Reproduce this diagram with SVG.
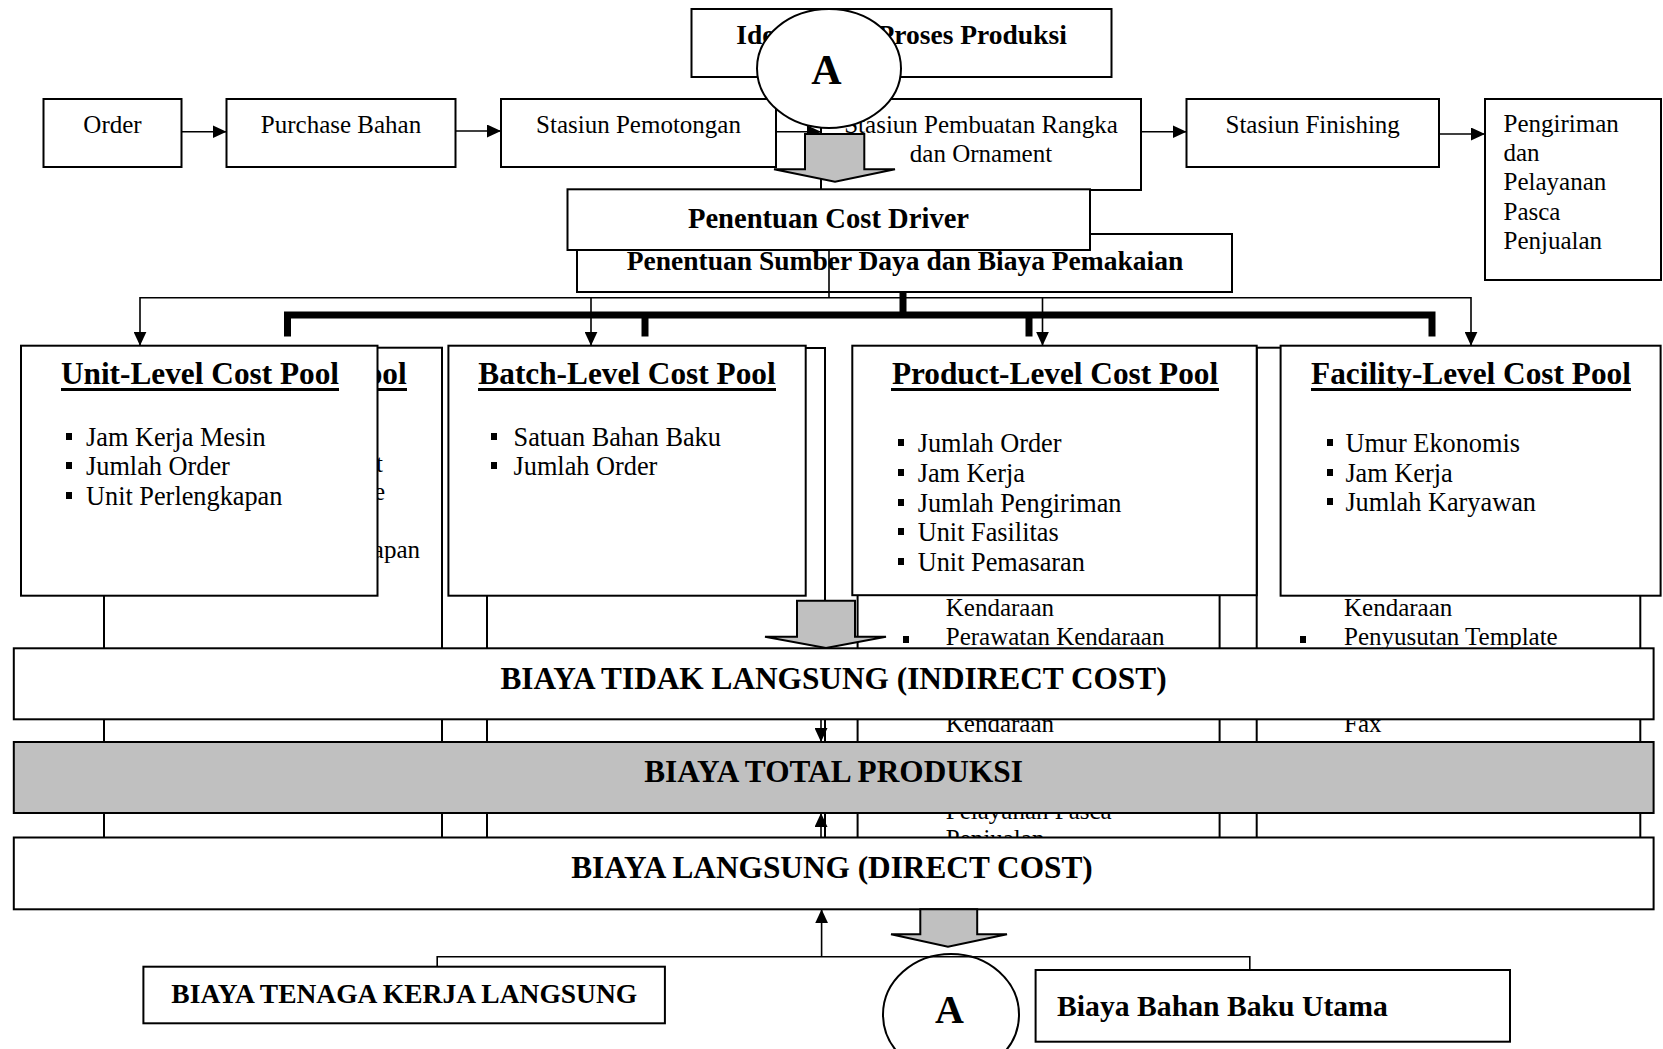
<svg xmlns="http://www.w3.org/2000/svg" width="1663" height="1049" viewBox="0 0 1663 1049">
  <defs>
    <style>
      .bx { fill: #ffffff; stroke: #000000; stroke-width: 2; }
      .gray { fill: #c0c0c0; stroke: #000000; stroke-width: 2; }
      .ln { fill: none; stroke: #000000; stroke-width: 1.6; }
      .thick { fill: none; stroke: #000000; stroke-width: 7; }
      .t { font-family: "Liberation Serif", "Times New Roman", serif; fill: #000000; }
      .flow { font-size: 25px; }
      .b { font-weight: bold; }
      .c { text-anchor: middle; }
      .item { font-size: 26.3px; }
      .back { font-size: 25px; }
      .title { font-size: 31.3px; font-weight: bold; text-anchor: middle; }
      .band { font-size: 31.3px; font-weight: bold; text-anchor: middle; }
      .ul { fill: #000000; }
    </style>
    <marker id="ah" viewBox="0 0 14 13" refX="14" refY="6.5" markerWidth="14" markerHeight="13" markerUnits="userSpaceOnUse" orient="auto">
      <path d="M0,0 L14,6.5 L0,13 z" fill="#000000"/>
    </marker>
  </defs>

  <rect width="1663" height="1049" fill="#ffffff"/>

  <!-- production process header -->
  <g id="identifikasi">
    <rect class="bx" x="691.5" y="9" width="420" height="68"/>
    <text class="t b c" x="901.5" y="43.5" font-size="27.5">Identifikasi Proses Produksi</text>
  </g>

  <!-- process flow -->
  <g id="order">
    <rect class="bx" x="43.5" y="99" width="138" height="68"/>
    <text class="t flow c" x="112.5" y="133">Order</text>
  </g>
  <g id="purchase">
    <rect class="bx" x="226.5" y="99" width="229" height="68"/>
    <text class="t flow c" x="341" y="133">Purchase Bahan</text>
  </g>
  <g id="pemotongan">
    <rect class="bx" x="501" y="99" width="275" height="68"/>
    <text class="t flow c" x="638.5" y="133">Stasiun Pemotongan</text>
  </g>
  <g id="pembuatan">
    <rect class="bx" x="821" y="99" width="320" height="91"/>
    <text class="t flow c" x="981" y="133">Stasiun Pembuatan Rangka</text>
    <text class="t flow c" x="981" y="162">dan Ornament</text>
  </g>
  <g id="finishing">
    <rect class="bx" x="1186.5" y="99" width="252.5" height="68"/>
    <text class="t flow c" x="1312.7" y="133">Stasiun Finishing</text>
  </g>
  <g id="pengiriman">
    <rect class="bx" x="1485" y="99" width="176" height="181"/>
    <text class="t flow" x="1503.5" y="132">Pengiriman</text>
    <text class="t flow" x="1503.5" y="161">dan</text>
    <text class="t flow" x="1503.5" y="190">Pelayanan</text>
    <text class="t flow" x="1503.5" y="219.5">Pasca</text>
    <text class="t flow" x="1503.5" y="248.5">Penjualan</text>
  </g>

  <!-- flow connectors -->
  <g id="flow-connectors">
    <line class="ln" x1="181.5" y1="131.7" x2="226.5" y2="131.7" marker-end="url(#ah)"/>
    <line class="ln" x1="455.5" y1="131" x2="501" y2="131" marker-end="url(#ah)"/>
    <line class="ln" x1="776" y1="131.7" x2="821" y2="131.7" marker-end="url(#ah)"/>
    <line class="ln" x1="1141" y1="131.7" x2="1186.5" y2="131.7" marker-end="url(#ah)"/>
    <line class="ln" x1="1439" y1="134" x2="1485" y2="134" marker-end="url(#ah)"/>
  </g>

  <!-- block arrow down to cost driver -->
  <g id="block-arrow-1">
    <path class="gray" d="M805,134 H864.3 V169.3 H895 L835,181.7 L774,169.3 H805 Z" stroke-width="1.6"/>
  </g>

  <!-- connector A (top) -->
  <g id="connector-a-top">
    <ellipse class="bx" cx="829" cy="68.5" rx="72" ry="59.5"/>
    <text class="t b c" x="826.5" y="83.5" font-size="42">A</text>
  </g>

  <!-- resources and cost drivers -->
  <g id="sumber-daya">
    <rect class="bx" x="577" y="234" width="655" height="58"/>
    <text class="t b c" x="905" y="269.5" font-size="27.5">Penentuan Sumber Daya dan Biaya Pemakaian</text>
  </g>
  <g id="cost-driver">
    <rect class="bx" x="567.5" y="189.3" width="522.5" height="60.7"/>
    <text class="t b c" x="828.5" y="227.7" font-size="28.6">Penentuan Cost Driver</text>
  </g>

  <!-- distribution lines to the cost pools -->
  <g id="pool-connectors">
    <line class="ln" x1="829" y1="250" x2="829" y2="297.7"/>
    <line class="ln" x1="140" y1="297.7" x2="1471" y2="297.7"/>
    <line class="ln" x1="140" y1="297" x2="140" y2="345.7" marker-end="url(#ah)"/>
    <line class="ln" x1="591" y1="297" x2="591" y2="345.7" marker-end="url(#ah)"/>
    <line class="ln" x1="1042.5" y1="297" x2="1042.5" y2="345.7" marker-end="url(#ah)"/>
    <line class="ln" x1="1471" y1="297" x2="1471" y2="345.7" marker-end="url(#ah)"/>
    <line class="thick" x1="903" y1="292" x2="903" y2="315"/>
    <polyline class="thick" points="287.5,336.5 287.5,315 1432,315 1432,336.5"/>
    <line class="thick" x1="645" y1="315" x2="645" y2="336.5"/>
    <line class="thick" x1="1029" y1="315" x2="1029" y2="336.5"/>
  </g>

  <!-- cost item boxes behind the pools -->
  <g id="unit-items">
    <rect class="bx" x="104" y="347.7" width="338" height="532"/>
    <text class="t b" x="406.7" y="384" font-size="31.3" text-anchor="end">ool</text>
    <rect class="ul" x="377" y="388" width="30" height="3"/>
    <text class="t back" x="383" y="472" text-anchor="end">t</text>
    <text class="t back" x="385" y="500" text-anchor="end">e</text>
    <text class="t back" x="420" y="558" text-anchor="end">kapan</text>
  </g>
  <g id="batch-items">
    <rect class="bx" x="487" y="348" width="338" height="532"/>
  </g>
  <g id="product-items">
    <rect class="bx" x="857.6" y="348" width="362" height="532"/>
    <text class="t back" x="945.8" y="616">Kendaraan</text>
    <rect x="903" y="636" width="6" height="7" fill="#000000"/>
    <text class="t back" x="945.8" y="645">Perawatan Kendaraan</text>
    <text class="t back" x="945.8" y="731.5">Kendaraan</text>
    <text class="t back" x="945.8" y="818.5">Pelayanan Pasca</text>
    <text class="t back" x="945.8" y="847">Penjualan</text>
  </g>
  <g id="facility-items">
    <rect class="bx" x="1256.7" y="347.7" width="383.6" height="532"/>
    <text class="t back" x="1344" y="616">Kendaraan</text>
    <rect x="1300" y="636" width="6" height="7" fill="#000000"/>
    <text class="t back" x="1344" y="645">Penyusutan Template</text>
    <text class="t back" x="1344" y="731.5">Fax</text>
  </g>

  <!-- cost pools -->
  <g id="unit-level">
    <rect class="bx" x="21" y="345.7" width="356.5" height="250"/>
    <text class="t title" x="200" y="384">Unit-Level Cost Pool</text>
    <rect class="ul" x="61" y="388" width="278" height="3"/>
    <rect x="66" y="433" width="6" height="7" fill="#000000"/>
    <text class="t item" x="86" y="446">Jam Kerja Mesin</text>
    <rect x="66" y="462" width="6" height="7" fill="#000000"/>
    <text class="t item" x="86" y="475">Jumlah Order</text>
    <rect x="66" y="492" width="6" height="7" fill="#000000"/>
    <text class="t item" x="86" y="505">Unit Perlengkapan</text>
  </g>
  <g id="batch-level">
    <rect class="bx" x="448.4" y="345.7" width="357.3" height="250"/>
    <text class="t title" x="627" y="384">Batch-Level Cost Pool</text>
    <rect class="ul" x="478" y="388" width="298" height="3"/>
    <rect x="491" y="433" width="6" height="7" fill="#000000"/>
    <text class="t item" x="513.5" y="446">Satuan Bahan Baku</text>
    <rect x="491" y="462" width="6" height="7" fill="#000000"/>
    <text class="t item" x="513.5" y="475">Jumlah Order</text>
  </g>
  <g id="product-level">
    <rect class="bx" x="852.3" y="345.7" width="404.4" height="249.5"/>
    <text class="t title" x="1055" y="384">Product-Level Cost Pool</text>
    <rect class="ul" x="891" y="388" width="328" height="3"/>
    <rect x="898" y="439" width="6" height="7" fill="#000000"/>
    <text class="t item" x="917.7" y="452">Jumlah Order</text>
    <rect x="898" y="469" width="6" height="7" fill="#000000"/>
    <text class="t item" x="917.7" y="482">Jam Kerja</text>
    <rect x="898" y="499" width="6" height="7" fill="#000000"/>
    <text class="t item" x="917.7" y="512">Jumlah Pengiriman</text>
    <rect x="898" y="528" width="6" height="7" fill="#000000"/>
    <text class="t item" x="917.7" y="541">Unit Fasilitas</text>
    <rect x="898" y="558" width="6" height="7" fill="#000000"/>
    <text class="t item" x="917.7" y="571">Unit Pemasaran</text>
  </g>
  <g id="facility-level">
    <rect class="bx" x="1280.6" y="345.7" width="380" height="250"/>
    <text class="t title" x="1471" y="384">Facility-Level Cost Pool</text>
    <rect class="ul" x="1311" y="388" width="320" height="3"/>
    <rect x="1327" y="439" width="6" height="7" fill="#000000"/>
    <text class="t item" x="1345.4" y="452">Umur Ekonomis</text>
    <rect x="1327" y="469" width="6" height="7" fill="#000000"/>
    <text class="t item" x="1345.4" y="482">Jam Kerja</text>
    <rect x="1327" y="498" width="6" height="7" fill="#000000"/>
    <text class="t item" x="1345.4" y="511">Jumlah Karyawan</text>
  </g>

  <!-- block arrow down to indirect cost -->
  <g id="block-arrow-2">
    <path class="gray" d="M797,600.7 H855 V636.7 H886 L826,648 L765,636.7 H797 Z" stroke-width="1.6"/>
  </g>

  <!-- cost totals -->
  <g id="indirect-cost">
    <rect class="bx" x="13.8" y="648.3" width="1639.8" height="71"/>
    <text class="t band" x="833.5" y="688.5">BIAYA TIDAK LANGSUNG (INDIRECT COST)</text>
  </g>
  <g id="total-cost">
    <rect class="gray" x="13.8" y="742" width="1639.8" height="71" stroke-width="2.5"/>
    <text class="t band" x="833.5" y="781.7">BIAYA TOTAL PRODUKSI</text>
  </g>
  <g id="direct-cost">
    <rect class="bx" x="13.8" y="837.5" width="1639.8" height="71.8"/>
    <text class="t band" x="832" y="878.3">BIAYA LANGSUNG (DIRECT COST)</text>
  </g>

  <g id="total-connectors">
    <line class="ln" x1="821" y1="719.3" x2="821" y2="742" marker-end="url(#ah)"/>
    <line class="ln" x1="821" y1="837.5" x2="821" y2="813" marker-end="url(#ah)"/>
  </g>

  <!-- block arrow down to connector A -->
  <g id="block-arrow-3">
    <path class="gray" d="M920.3,909.3 H977.2 V934.3 H1007 L948,946.7 L891,934.3 H920.3 Z" stroke-width="1.6"/>
  </g>

  <!-- connector A (bottom) -->
  <g id="connector-a-bottom">
    <ellipse class="bx" cx="951" cy="1014.6" rx="68" ry="60.6"/>
    <text class="t b c" x="949.5" y="1023.3" font-size="40">A</text>
  </g>

  <!-- direct cost inputs -->
  <g id="direct-connectors">
    <polyline class="ln" points="437.2,971 437.2,956.7 1249.8,956.7 1249.8,970"/>
    <line class="ln" x1="821.6" y1="956.7" x2="821.6" y2="909.3" marker-end="url(#ah)"/>
  </g>
  <g id="tenaga-kerja">
    <rect class="bx" x="143.4" y="966.7" width="521.5" height="56.6"/>
    <text class="t b c" x="404.3" y="1003.3" font-size="27.5">BIAYA TENAGA KERJA LANGSUNG</text>
  </g>
  <g id="bahan-baku">
    <rect class="bx" x="1035.6" y="970" width="474.4" height="71.7"/>
    <text class="t b" x="1057" y="1016" font-size="29.7">Biaya Bahan Baku Utama</text>
  </g>
</svg>
